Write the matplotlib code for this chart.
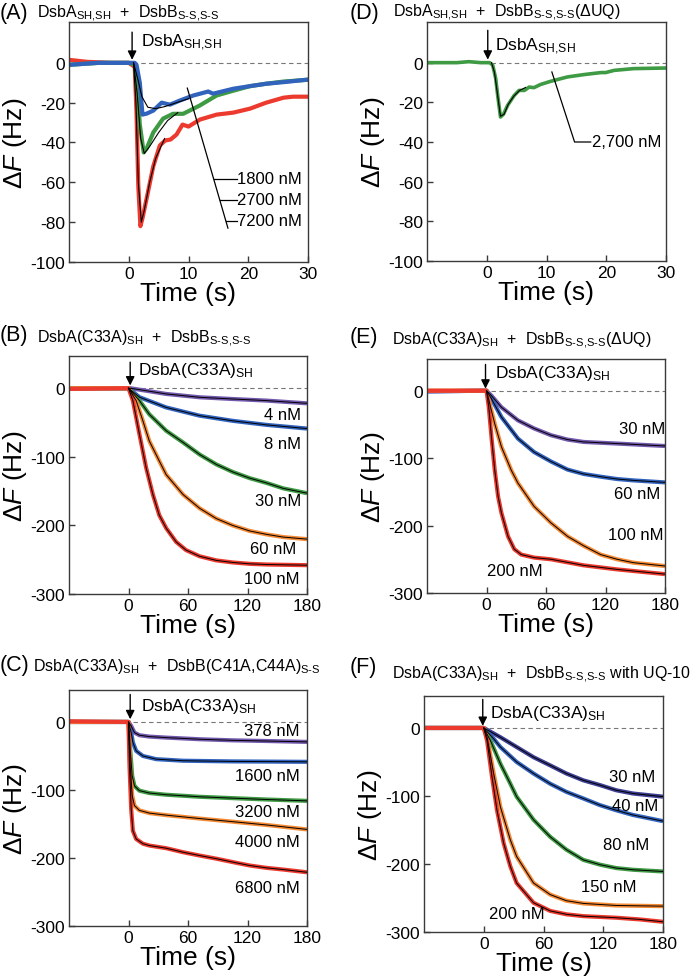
import numpy as np
import matplotlib.pyplot as plt

plt.rcParams['font.family'] = ['Liberation Sans', 'DejaVu Sans']
plt.rcParams['mathtext.fontset'] = 'custom'
plt.rcParams['mathtext.rm'] = 'Liberation Sans'
plt.rcParams['mathtext.it'] = 'Liberation Sans:italic'
plt.rcParams['mathtext.default'] = 'regular'
plt.rcParams['axes.unicode_minus'] = False

RED = '#ec3a2e'
GREEN = '#3f9a44'
BLUE = '#3163bd'
PURPLE = '#7359ad'
ORANGE = '#f58a35'
NAVY = '#3d3f94'

# ---- panel A: DsbA(SH,SH) + DsbB, 0-30 s ----
a_red_t = [-10, -7, -3, 0, 1.0, 1.3, 1.6, 1.95, 2.3, 3.0, 4.1, 5.2, 6.1, 7.0, 8.0, 9.0, 10.0, 11.9, 14.7, 17.5, 20.3, 23.0, 25.9, 27.5, 30]
a_red_v = [1.5, 0.5, 0, 0, -2, -25, -62, -82, -78, -68, -52, -41.5, -39, -38.5, -36, -31, -32, -28.5, -26, -25, -23, -20, -17.5, -17, -17]
a_green_t = [-10, -5, 0, 1.0, 1.5, 1.85, 2.5, 3.0, 4.1, 5.75, 7.4, 9.1, 11.9, 14.7, 17.5, 20.3, 23.0, 25.9, 30]
a_green_v = [-1, 0, 0, -1, -15, -31, -45, -43, -35, -28, -25.6, -25.6, -21.4, -16.4, -14, -11.7, -10.5, -9.4, -8.5]
a_blue_t = [-10, -5, 0, 1.0, 1.3, 1.85, 2.3, 3.0, 4.1, 5.5, 6.9, 8.5, 10.8, 13.3, 14.1, 17.5, 20.3, 23.0, 25.9, 30]
a_blue_v = [-1, 0, 0, 0, -1, -10, -26, -25.5, -24, -20, -21, -19, -16.4, -14.4, -15.5, -13, -11.7, -10.5, -9.7, -8.4]
a_fit1800_t = [0.8, 1.5, 2.2, 3.2, 4.5, 6.0, 8.0, 10.0]
a_fit1800_v = [0, -8, -17, -22.3, -23, -22, -20, -18]
a_fit2700_t = [0.8, 1.4, 2.0, 2.6, 3.5, 5.0, 6.5, 8.2]
a_fit2700_v = [0, -15, -38, -45.5, -42, -35, -29, -25]
a_fit7200_t = [0.8, 1.2, 1.6, 2.1, 2.6, 3.5, 4.5, 6.0]
a_fit7200_v = [0, -20, -60, -80, -74, -60, -48, -38]
a_labels = ['1800 nM', '2700 nM', '7200 nM']
a_label_y = [-58.3, -68.8, -79.2]

# ---- panel D: DsbA(SH,SH) + DsbB(dUQ) ----
d_t = [-10, -5, -3, -1, 0.5, 1.0, 1.5, 1.83, 2.3, 2.8, 3.5, 4.6, 5.4, 6.3, 7.1, 7.9, 9.0, 10.7, 13.5, 16.3, 19.1, 19.9, 21.3, 24.6, 30]
d_v = [0, 0, 0.5, 0, 0, -1.3, -8, -16.5, -27.4, -26, -21.5, -16.5, -14, -14, -12.3, -12.6, -11, -9.4, -7.2, -6, -5, -5, -3.9, -3, -2.7]
d_fit_t = [0.8, 1.3, 1.8, 2.3, 2.9, 3.6, 4.5, 5.5, 6.5]
d_fit_v = [0, -5, -16, -27, -26, -21, -17, -14, -12.5]

# ---- panel B ----
b_t = {
    '4 nM': [-60, 0, 2, 38, 71.7, 105, 139, 180],
    '8 nM': [-60, 0, 11, 38, 71.7, 105, 139, 180],
    '30 nM': [-60, 0, 11, 21, 38, 55, 71.7, 88.5, 105, 122, 139, 156, 180],
    '60 nM': [-60, 0, 7.7, 14.5, 21, 31, 38, 55, 71.7, 88.5, 105, 122, 139, 156, 180],
    '100 nM': [-60, 0, 4.4, 11, 17.8, 24.6, 31, 38, 48, 58, 71.7, 88.5, 105, 122, 139, 180],
}
b_v = {
    '4 nM': [0, 0, 0, -8.3, -13.2, -15.7, -18, -22],
    '8 nM': [0, 0, -13, -28, -40, -47.5, -53.4, -58.8],
    '30 nM': [0, 0, -18, -38, -62, -79, -96.6, -111, -122, -131, -138, -146, -153],
    '60 nM': [0, 0, -18, -47.5, -77, -106, -126, -155, -175, -190, -200, -208, -213, -217, -220],
    '100 nM': [-1, 0, -18, -67, -116, -155, -185, -204, -224, -236, -245, -251, -254, -256, -257, -258],
}
b_colors = [PURPLE, BLUE, GREEN, ORANGE, RED]
b_label_pos = [(174, -39), (174, -81), (174, -163), (169, -234), (172, -278)]

# ---- panel E ----
e_t = {
    '30 nM': [-60, 0, 5, 15, 31.7, 48, 65, 81.7, 98, 131.7, 180],
    '60 nM': [-60, 0, 5, 15, 31.7, 48, 65, 81.7, 98, 115, 131.7, 148, 180],
    '100 nM': [-60, 0, 3.3, 8.3, 15, 25, 31.7, 48, 65, 81.7, 98, 115, 131.7, 148, 180],
    '200 nM': [-60, 0, 2.3, 5, 8.3, 11.7, 15, 21.7, 28, 35, 48, 65, 98, 131.7, 180],
}
e_v = {
    '30 nM': [-1, 0, -7.4, -24.5, -44, -56, -66, -72.5, -76, -78.4, -82],
    '60 nM': [-1, 0, -12, -39, -71, -91, -105, -117, -123.5, -127.5, -131, -133, -136],
    '100 nM': [0, 0, -19.6, -49, -83, -118, -137, -171.6, -196, -216, -230, -243, -250, -255, -260],
    '200 nM': [0, 0, -24.5, -68.6, -117.6, -157, -181, -216, -235, -243, -247.5, -250, -259, -265, -272],
}
e_colors = [PURPLE, BLUE, ORANGE, RED]
e_label_pos = [(180, -56), (175, -152), (178, -213), (29, -266)]
e_label_ha = ['right', 'right', 'right', 'center']

# ---- panel C ----
c_t = {
    '378 nM': [-60, 0, 2.7, 6, 11, 21, 38, 71.7, 105, 139, 180],
    '1600 nM': [-60, 0, 2.7, 4.4, 7.7, 14.5, 28, 55, 105, 180],
    '3200 nM': [-60, 0, 1.7, 3.7, 6, 11, 21, 38, 71.7, 105, 139, 180],
    '4000 nM': [-60, 0, 1.7, 3.7, 6, 11, 21, 38, 71.7, 105, 139, 180],
    '6800 nM': [-60, 0, 1.0, 2.7, 4.4, 7.7, 14.5, 21, 38, 55, 71.7, 88.5, 105, 122, 139, 156, 180],
}
c_v = {
    '378 nM': [0, 0, -5.9, -15.6, -19.5, -21.5, -23, -25.4, -27, -28, -29.3],
    '1600 nM': [0, 0, -15.6, -30, -42.5, -50, -54.7, -57, -58, -58.6],
    '3200 nM': [0, 0, -40, -79, -94, -101, -104.5, -107, -110, -112, -114, -116],
    '4000 nM': [0, 0, -64.5, -108, -123, -130, -134, -137, -142, -146.6, -151.4, -158],
    '6800 nM': [1, 0, -64.5, -128, -160, -172, -179, -181.7, -185.6, -191.5, -196.4, -201, -206, -211, -214.5, -217, -221],
}
c_colors = [PURPLE, BLUE, GREEN, ORANGE, RED]
c_label_y = [-13, -79, -132, -176, -243]

# ---- panel F ----
f_t = {
    '30 nM': [-60, 0, 16.7, 33, 50, 66.7, 83, 100, 116.7, 133, 150, 180],
    '40 nM': [-60, 0, 10, 16.7, 33, 50, 66.7, 83, 100, 116.7, 133, 150, 180],
    '80 nM': [-60, 0, 6.7, 16.7, 26.7, 33, 50, 66.7, 83, 100, 116.7, 133, 150, 180],
    '150 nM': [-60, 0, 3.3, 10, 16.7, 26.7, 33, 50, 66.7, 83, 100, 133, 180],
    '200 nM': [-60, 0, 3.3, 8.3, 13.3, 20, 26.7, 33, 50, 66.7, 83, 100, 133, 156.7, 180],
}
f_v = {
    '30 nM': [0, 0, -13.6, -28, -43, -55, -67, -77, -84, -91.6, -96.4, -101],
    '40 nM': [0, 0, -16, -28, -50, -67, -82, -94, -103.7, -113.5, -121, -128, -137],
    '80 nM': [0, 0, -18.5, -52.6, -82, -101, -135, -160, -179, -194, -201, -206, -208.5, -211],
    '150 nM': [0, 0, -13.6, -67, -116, -164.6, -189, -228, -245, -254, -258, -261, -262],
    '200 nM': [0, 0, -18.5, -72, -121, -169.5, -203.6, -228, -257, -269, -274, -276.7, -279, -281.5, -285],
}
f_colors = [NAVY, BLUE, GREEN, ORANGE, RED]
f_label_pos = [(172, -72), (175, -113.5), (166, -172), (153, -233), (33, -273)]
f_label_ha = ['right', 'right', 'right', 'right', 'center']

SUB_SHSH = r'$_{SH{,}SH}$'
SUB_SSSS = r'$_{S‐S{,}S‐S}$'
SUB_SH = r'$_{SH}$'


def rect(l, t, r, b):
    return [l / 700, 1 - b / 979, (r - l) / 700, (b - t) / 979]


def style(ax, long_axis):
    for s in ax.spines.values():
        s.set_color('#3a3a3a')
        s.set_linewidth(1.0)
    ax.tick_params(direction='in', length=4, width=1, color='#3a3a3a',
                   labelsize=12.5, pad=3)
    if long_axis:
        ax.set_xlim(-60, 180)
        ax.set_ylim(-300, 47)
        ax.set_xticks([0, 60, 120, 180])
        ax.set_yticks([0, -100, -200, -300])
    else:
        ax.set_xlim(-10, 30)
        ax.set_ylim(-100, 20.5)
        ax.set_xticks([0, 10, 20, 30])
        ax.set_yticks([0, -20, -40, -60, -80, -100])
    ax.set_xlabel('Time (s)', fontsize=19, labelpad=0)
    ax.set_ylabel(r'$\Delta\mathit{F}$ (Hz)', fontsize=19, labelpad=1)


def arrow(ax, x, y0, y1, label, lx, ly):
    ax.annotate('', xy=(x, y1), xytext=(x, y0),
                arrowprops=dict(arrowstyle='-|>', color='k', lw=1.0,
                                mutation_scale=13, shrinkA=0, shrinkB=0))
    ax.text(lx, ly, label, fontsize=12.5, ha='left', va='center')


def zero_line(ax, x0, x1):
    ax.plot([x0, x1], [0, 0], ls=(0, (4, 3)), color='#777777', lw=0.8, zorder=1)


def traces(ax, ts, vs, colors):
    for (k, t), c in zip(ts.items(), colors):
        ax.plot(t, vs[k], color=c, lw=3.0, solid_capstyle='butt', zorder=2)
    for k, t in ts.items():
        t = np.array(t)
        v = np.array(vs[k])
        m = t >= 0
        ax.plot(t[m], v[m], color='black', lw=0.7, zorder=3)


fig = plt.figure(figsize=(7, 9.79), dpi=100)


def head(letter, xl, yl, sub, xs, ys):
    fig.text(xl / 700, 1 - yl / 979, letter, fontsize=15.5, ha='left', va='center')
    fig.text(xs / 700, 1 - ys / 979, sub, fontsize=11.5, ha='left', va='center')


# A
ax = fig.add_axes(rect(69, 23, 308, 263))
style(ax, False)
zero_line(ax, 0.7, 30)
ax.plot(a_red_t, a_red_v, color=RED, lw=3.0, zorder=2)
ax.plot(a_green_t, a_green_v, color=GREEN, lw=3.0, zorder=2)
ax.plot(a_blue_t, a_blue_v, color=BLUE, lw=3.0, zorder=2)
for t, v in [(a_fit1800_t, a_fit1800_v), (a_fit2700_t, a_fit2700_v), (a_fit7200_t, a_fit7200_v)]:
    ax.plot(t, v, color='black', lw=0.8, zorder=3)
x_top, y_top, x_bot, y_bot = 9.8, -12.7, 16.6, -83
ax.plot([x_top, x_bot], [y_top, y_bot], color='black', lw=0.9)
for lab, y in zip(a_labels, a_label_y):
    xd = x_top + (x_bot - x_top) * (y_top - y) / (y_top - y_bot)
    ax.plot([xd, 18.1], [y, y], color='black', lw=0.9)
    ax.text(18.2, y, lab, fontsize=12, ha='left', va='center')
arrow(ax, 0.56, 15.4, 1.5, 'DsbA' + SUB_SHSH, 2.1, 10.4)
head('(A)', 0, 14, 'DsbA' + SUB_SHSH + '  +  DsbB' + SUB_SSSS, 37, 14)

# D
ax = fig.add_axes(rect(427, 23, 666, 262))
style(ax, False)
zero_line(ax, 0.7, 30)
ax.plot(d_t, d_v, color=GREEN, lw=2.6, zorder=2)
ax.plot(d_fit_t, d_fit_v, color='black', lw=0.8, zorder=3)
ax.plot([10.9, 14.7, 17.4], [-4.7, -40, -40], color='black', lw=0.9)
ax.text(17.6, -40, '2,700 nM', fontsize=12, ha='left', va='center')
arrow(ax, 0.17, 16.3, 1.5, 'DsbA' + SUB_SHSH, 1.4, 8.7)
head('(D)', 350, 13, 'DsbA' + SUB_SHSH + '  +  DsbB' + SUB_SSSS + '(ΔUQ)', 393, 13)

# B
ax = fig.add_axes(rect(69, 357, 307, 595))
style(ax, True)
zero_line(ax, 5, 180)
traces(ax, b_t, b_v, b_colors)
for lab, (x, y) in zip(b_t.keys(), b_label_pos):
    ax.text(x, y, lab, fontsize=12, ha='right', va='center')
arrow(ax, 1.7, 38, 4, 'DsbA(C33A)' + SUB_SH, 9.4, 28)
head('(B)', 0, 335, 'DsbA(C33A)' + SUB_SH + '  +  DsbB' + SUB_SSSS, 37, 339)

# E
ax = fig.add_axes(rect(427, 360, 665, 594))
style(ax, True)
zero_line(ax, 5, 180)
traces(ax, e_t, e_v, e_colors)
for lab, (x, y), ha in zip(e_t.keys(), e_label_pos, e_label_ha):
    ax.text(x, y, lab, fontsize=12, ha=ha, va='center')
arrow(ax, -1, 39, 3, 'DsbA(C33A)' + SUB_SH, 8.3, 27)
head('(E)', 350, 337, 'DsbA(C33A)' + SUB_SH + '  +  DsbB' + SUB_SSSS + '(ΔUQ)', 392, 341)

# C
ax = fig.add_axes(rect(69, 691, 307, 927))
style(ax, True)
zero_line(ax, 5, 180)
traces(ax, c_t, c_v, c_colors)
for lab, y in zip(c_t.keys(), c_label_y):
    ax.text(172.6, y, lab, fontsize=12, ha='right', va='center')
arrow(ax, 1.7, 40.5, 4, 'DsbA(C33A)' + SUB_SH, 12.8, 23.5)
head('(C)', 0, 665, 'DsbA(C33A)' + SUB_SH + '  +  DsbB(C41A,C44A)' + r'$_{S‐S}$', 33, 667)

# F
ax = fig.add_axes(rect(424, 697, 663, 933))
style(ax, True)
zero_line(ax, 5, 180)
traces(ax, f_t, f_v, f_colors)
for lab, (x, y), ha in zip(f_t.keys(), f_label_pos, f_label_ha):
    ax.text(x, y, lab, fontsize=12, ha=ha, va='center')
arrow(ax, -1, 42, 3, 'DsbA(C33A)' + SUB_SH, 6.7, 23)
head('(F)', 350, 668, 'DsbA(C33A)' + SUB_SH + '  +  DsbB' + SUB_SSSS + ' with UQ-10', 392, 675)

fig.savefig('out.png', dpi=100)
